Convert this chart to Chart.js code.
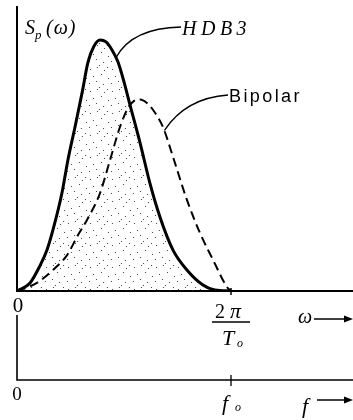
<!DOCTYPE html>
<html>
<head>
<meta charset="utf-8">
<script src="https://cdn.jsdelivr.net/npm/chart.js@4/dist/chart.umd.min.js"></script>
<style>
  html, body { margin: 0; padding: 0; background: #fff; }
  canvas { display: block; }
</style>
</head>
<body>
<canvas id="psd" width="353" height="420"></canvas>
<script>
// Normalised frequency: 1.0 corresponds to ω = 2π/T₀ (f = f₀)
const hdb3Freq = [0, 0.061, 0.107, 0.140, 0.168, 0.210, 0.238, 0.271, 0.304, 0.332, 0.360,
                  0.388, 0.416, 0.444, 0.472, 0.500, 0.528, 0.575, 0.621, 0.668, 0.729,
                  0.794, 0.869, 0.925, 1.0];
// HDB3 power spectral density (peak normalised to 1)
const hdb3Psd  = [0, 0.032, 0.100, 0.163, 0.243, 0.390, 0.522, 0.653, 0.789, 0.912, 0.976,
                  1.0, 0.992, 0.960, 0.912, 0.833, 0.741, 0.590, 0.430, 0.295, 0.163,
                  0.084, 0.024, 0.004, 0];

const bipolarFreq = [0, 0.093, 0.168, 0.234, 0.285, 0.327, 0.388, 0.435, 0.481, 0.519, 0.547,
                     0.575, 0.607, 0.636, 0.682, 0.729, 0.794, 0.855, 0.916, 0.981, 1.0];
// Bipolar (AMI) power spectral density, same scale
const bipolarPsd  = [0, 0.032, 0.084, 0.143, 0.223, 0.283, 0.390, 0.522, 0.653, 0.729, 0.757,
                     0.763, 0.749, 0.721, 0.653, 0.534, 0.363, 0.231, 0.124, 0.016, 0];

const omegaTicks = [0, 1];          // 0 and 2π/T₀
const freqTicks  = [0, 1];          // 0 and f₀
const xMax = 1.57;
const yMax = 1.131;

// Sparse stipple used to shade the area under the HDB3 curve
function makeStipple() {
  const c = document.createElement('canvas');
  c.width = 22; c.height = 22;
  const g = c.getContext('2d');
  g.fillStyle = '#333';
  const dots = [[2,3],[9,1],[16,4],[5,10],[13,8],[20,12],[1,17],[8,15],[15,18],[11,21],[19,1]];
  dots.forEach(([x, y]) => { g.beginPath(); g.arc(x + 0.5, y + 0.5, 0.6, 0, Math.PI * 2); g.fill(); });
  return g.createPattern(c, 'repeat');
}

function spaced(ctx, text, x, y, gap) {
  for (const ch of text) {
    ctx.fillText(ch, x, y);
    x += ctx.measureText(ch).width + gap;
  }
  return x;
}

function arrow(ctx, x0, x1, y) {
  ctx.beginPath();
  ctx.moveTo(x0, y); ctx.lineTo(x1 - 6, y);
  ctx.lineWidth = 1.5; ctx.stroke();
  ctx.beginPath();
  ctx.moveTo(x1, y); ctx.lineTo(x1 - 9, y - 3.5); ctx.lineTo(x1 - 9, y + 3.5); ctx.closePath();
  ctx.fill();
}

const annotations = {
  id: 'annotations',
  afterDraw(chart) {
    const ctx = chart.ctx;
    const xs = chart.scales.x, ys = chart.scales.y;
    const x0 = xs.getPixelForValue(omegaTicks[0]);
    const x1 = xs.getPixelForValue(omegaTicks[1]);
    const yb = ys.getPixelForValue(0);
    const right = chart.chartArea.right;
    ctx.save();
    ctx.fillStyle = '#000';
    ctx.strokeStyle = '#000';
    ctx.textBaseline = 'alphabetic';

    // tick at 2π/T₀ on the ω axis
    ctx.lineWidth = 1.5;
    ctx.beginPath(); ctx.moveTo(x1, yb - 3); ctx.lineTo(x1, yb + 4); ctx.stroke();

    // y-axis title S_p(ω)
    ctx.font = 'italic 20px "Liberation Serif"';
    ctx.fillText('S', 25, 34);
    ctx.font = 'italic 13px "Liberation Serif"';
    ctx.fillText('p', 35, 39);
    ctx.font = 'italic 20px "Liberation Serif"';
    spaced(ctx, '(ω)', 46, 34, 1);

    // leader lines
    ctx.lineWidth = 1.3;
    const hx = xs.getPixelForValue(0.463), hy = ys.getPixelForValue(0.93);
    ctx.beginPath(); ctx.moveTo(hx, hy); ctx.quadraticCurveTo(132, 28, 181, 27); ctx.stroke();
    const bx = xs.getPixelForValue(0.689), by = ys.getPixelForValue(0.64);
    ctx.beginPath(); ctx.moveTo(bx, by); ctx.quadraticCurveTo(186, 98, 228, 95); ctx.stroke();

    ctx.font = 'italic 20px "Liberation Serif"';
    spaced(ctx, 'HDB3', 182, 35, 4.5);
    ctx.font = '18px "Liberation Sans"';
    spaced(ctx, 'Bipolar', 229, 102, 2.4);

    // ω-axis labels
    ctx.textAlign = 'center';
    ctx.font = '21px "Liberation Serif"';
    ctx.fillText('0', x0 + 1, yb + 21);
    ctx.textAlign = 'left';
    ctx.font = '20px "Liberation Serif"';
    ctx.fillText('2', x1 - 16, yb + 27);
    ctx.font = 'italic 22px "Liberation Serif"';
    ctx.fillText('π', x1 - 1, yb + 27);
    ctx.lineWidth = 1.5;
    ctx.beginPath(); ctx.moveTo(x1 - 19, yb + 31); ctx.lineTo(x1 + 19, yb + 31); ctx.stroke();
    ctx.font = 'italic 22px "Liberation Serif"';
    ctx.fillText('T', x1 - 9, yb + 54);
    ctx.font = 'italic 12px "Liberation Serif"';
    ctx.fillText('o', x1 + 6, yb + 56);
    ctx.font = 'italic 20px "Liberation Serif"';
    ctx.fillText('ω', 298, yb + 32);
    arrow(ctx, 314, right, yb + 28);

    // frequency axis f
    const fy = 380;
    const f0 = xs.getPixelForValue(freqTicks[0]);
    const f1 = xs.getPixelForValue(freqTicks[1]);
    ctx.lineWidth = 1.6;
    ctx.beginPath();
    ctx.moveTo(f0, 315); ctx.lineTo(f0, fy); ctx.lineTo(right, fy);
    ctx.stroke();
    ctx.lineWidth = 1.3;
    ctx.beginPath(); ctx.moveTo(f1, fy - 5); ctx.lineTo(f1, fy + 6); ctx.stroke();
    ctx.textAlign = 'center';
    ctx.font = '19px "Liberation Serif"';
    ctx.fillText('0', f0, fy + 20);
    ctx.textAlign = 'left';
    ctx.font = 'italic 22px "Liberation Serif"';
    ctx.fillText('f', f1 - 9, fy + 30);
    ctx.font = 'italic 12px "Liberation Serif"';
    ctx.fillText('o', f1 + 4, fy + 31);
    ctx.font = 'italic 22px "Liberation Serif"';
    ctx.fillText('f', 302, fy + 33);
    arrow(ctx, 317, right, fy + 20);
    ctx.restore();
  }
};

const toPoints = (xs, ys) => xs.map((x, i) => ({ x, y: ys[i] }));

new Chart(document.getElementById('psd'), {
  type: 'line',
  data: {
    datasets: [
      {
        label: 'HDB3',
        data: toPoints(hdb3Freq, hdb3Psd),
        borderColor: '#000',
        borderWidth: 3,
        backgroundColor: makeStipple(),
        fill: 'origin',
        pointRadius: 0,
        cubicInterpolationMode: 'monotone'
      },
      {
        label: 'Bipolar',
        data: toPoints(bipolarFreq, bipolarPsd),
        borderColor: '#000',
        borderWidth: 2,
        borderDash: [9, 5],
        fill: false,
        pointRadius: 0,
        cubicInterpolationMode: 'monotone'
      }
    ]
  },
  options: {
    responsive: false,
    animation: false,
    devicePixelRatio: 1,
    layout: { padding: { top: 7, right: 0, left: 0, bottom: 0 } },
    plugins: { legend: { display: false }, tooltip: { enabled: false }, title: { display: false } },
    scales: {
      x: {
        type: 'linear', min: 0, max: xMax,
        grid: { display: false },
        ticks: { display: false },
        border: { display: true, color: '#000', width: 2 },
        afterFit: s => { s.height = 129; }
      },
      y: {
        type: 'linear', min: 0, max: yMax,
        grid: { display: false },
        ticks: { display: false },
        border: { display: true, color: '#000', width: 2 },
        afterFit: s => { s.width = 17; }
      }
    }
  },
  plugins: [annotations]
});
</script>
</body>
</html>
